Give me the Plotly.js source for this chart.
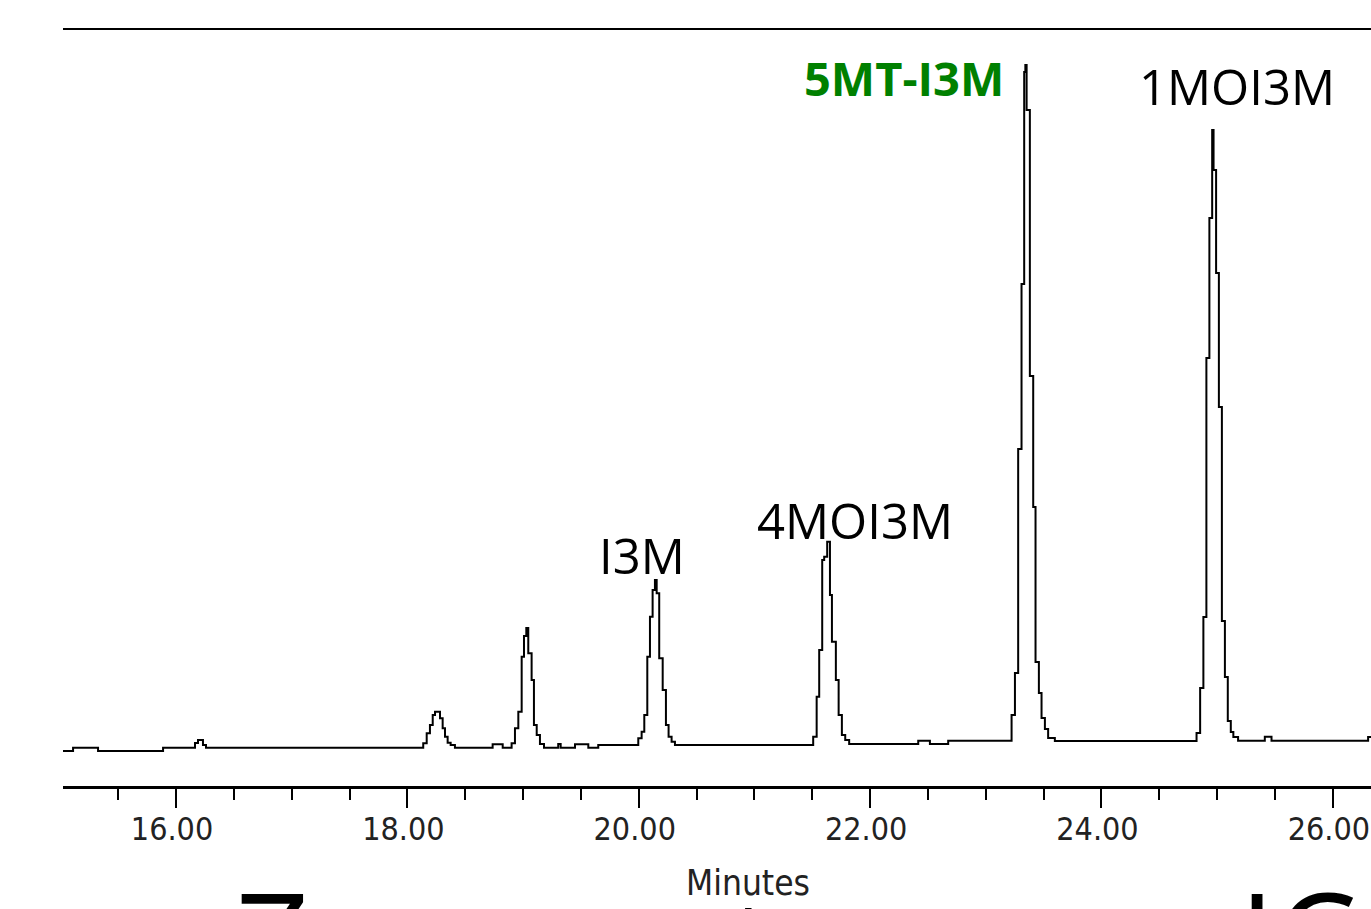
<!DOCTYPE html>
<html>
<head>
<meta charset="utf-8">
<script src="https://cdn.plot.ly/plotly-3.0.1.min.js"></script>
<style>
html, body { margin: 0; padding: 0; background: #fff; overflow: hidden; }
#chart { width: 1371px; height: 909px; }
</style>
</head>
<body>
<div id="chart"></div>
<script>
// Retention time (minutes) at the start of each digitised step of the trace
const retentionTime = [
  15.023, 15.110, 15.326, 15.888, 16.164, 16.190, 16.233, 16.259,
  18.137, 18.167, 18.195, 18.219, 18.239, 18.282, 18.305, 18.325, 18.348, 18.374, 18.411,
  18.737, 18.824, 18.901, 18.930, 18.959, 18.988, 19.008, 19.028, 19.045, 19.074, 19.094, 19.118, 19.146, 19.181,
  19.304, 19.325, 19.449, 19.564, 19.650,
  19.996, 20.025, 20.048, 20.074, 20.097, 20.120, 20.140, 20.155, 20.177, 20.207, 20.235, 20.258, 20.284, 20.313,
  21.508, 21.538, 21.560, 21.586, 21.603, 21.629, 21.653, 21.670, 21.704, 21.728, 21.756, 21.785, 21.819,
  22.416, 22.517, 22.675,
  23.223, 23.252, 23.280, 23.309, 23.332, 23.342, 23.353, 23.381, 23.410, 23.430, 23.459, 23.482, 23.511, 23.539, 23.597,
  24.822, 24.853, 24.881, 24.907, 24.933, 24.957, 24.969, 24.991, 25.015, 25.041, 25.067, 25.092, 25.118, 25.140, 25.181,
  25.412, 25.470, 26.305, 26.330
];
// Detector signal (arbitrary units)
const signal = [
  35, 38.3, 35, 38.3, 43, 46, 41, 38.3,
  42.7, 52.7, 61, 71, 74.3, 67.7, 57.7, 49.3, 43.3, 41, 38.3,
  41.7, 38.3, 42.7, 57.7, 74.3, 129.3, 150, 158, 132.7, 106, 61, 51, 42, 38.3,
  42, 38.3, 41.7, 38.3, 41,
  47.7, 54.3, 71, 129.3, 169.3, 196, 206, 192.7, 127.7, 96, 61, 49.3, 44.3, 41,
  49.3, 89.3, 136, 226, 229.3, 244.3, 191, 144.3, 106, 71, 51, 46, 42,
  45.3, 42, 45.3,
  71, 113, 337, 502, 714, 721, 676, 410, 279, 124, 93, 68, 57, 48, 45,
  53, 98, 169, 428, 568, 656, 616, 513, 379, 165, 109, 65, 54, 49, 45.3,
  49.3, 45.3, 49, 49
];
// Peak labels and texts
const peakLabels = ['I3M', '4MOI3M', '5MT-I3M', '1MOI3M'];
const axisTitle = 'Minutes';

const xRange = [15.023, 26.33];
const tickFontFamily = 'Liberation Sans Narrow, Arial Narrow, DejaVu Sans Condensed, sans-serif';

const trace = {
  x: retentionTime,
  y: signal,
  type: 'scatter',
  mode: 'lines',
  line: { color: '#000', width: 2, shape: 'hv' },
  hoverinfo: 'skip'
};
// empty trace that only carries the tick-label axis
const labelAxisTrace = { x: [], y: [], type: 'scatter', mode: 'lines', xaxis: 'x2', yaxis: 'y', hoverinfo: 'skip', showlegend: false };

const labelFont = { family: 'Open Sans, sans-serif', size: 49, color: '#000' };
const bigFont = { family: 'Open Sans, sans-serif', size: 130, color: '#000' };

const layout = {
  width: 1371,
  height: 909,
  margin: { l: 63, r: 0, t: 30, b: 123 },
  paper_bgcolor: '#fff',
  plot_bgcolor: '#fff',
  showlegend: false,
  xaxis: {
    range: xRange,
    tickmode: 'linear', tick0: 16, dtick: 2,
    ticks: 'outside', ticklen: 19, tickwidth: 2, tickcolor: '#000',
    showticklabels: false,
    showline: true, linecolor: '#000', linewidth: 2.5, mirror: true,
    showgrid: false, zeroline: false,
    minor: { tick0: 15.5, dtick: 0.5, ticks: 'outside', ticklen: 11, tickwidth: 2, tickcolor: '#000', showgrid: false }
  },
  xaxis2: {
    range: xRange,
    overlaying: 'x', anchor: 'y', side: 'bottom',
    tickmode: 'linear', tick0: 16, dtick: 2, tickformat: '.2f',
    ticks: '', showline: false, showgrid: false, zeroline: false,
    ticklabelstandoff: 21, ticklabelshift: -4, ticklabeloverflow: 'allow',
    tickfont: { family: tickFontFamily, size: 32, color: '#222' }
  },
  yaxis: { range: [0, 756], visible: false, fixedrange: true },
  annotations: [
    { text: peakLabels[0], x: 20.032, y: 266, xref: 'x', yref: 'y', xanchor: 'center', yanchor: 'top', showarrow: false, font: labelFont },
    { text: peakLabels[1], x: 21.869, y: 301, xref: 'x', yref: 'y', xanchor: 'center', yanchor: 'top', showarrow: false, font: labelFont },
    { text: '<b>' + peakLabels[2] + '</b>', x: 22.292, y: 742, xref: 'x', yref: 'y', xanchor: 'center', yanchor: 'top', showarrow: false,
      font: { family: 'Open Sans, sans-serif', size: 47, color: '#008000' } },
    { text: peakLabels[3], x: 25.170, y: 735, xref: 'x', yref: 'y', xanchor: 'center', yanchor: 'top', showarrow: false, font: labelFont },
    { text: axisTitle, x: 0.524, y: -0.128, xref: 'paper', yref: 'paper', xanchor: 'center', yanchor: 'middle', showarrow: false,
      font: { family: tickFontFamily, size: 35, color: '#222' } },
    // large slide caption below, mostly cut off by the bottom edge
    { text: 'Z', x: 0.130, y: -0.0794, xref: 'paper', yref: 'paper', xanchor: 'left', yanchor: 'top', showarrow: false, font: bigFont },
    { text: 't', x: 0.527, y: -0.0794, yshift: -7, xref: 'paper', yref: 'paper', xanchor: 'center', yanchor: 'top', showarrow: false, font: bigFont },
    { text: 'IC', x: 0.8976, y: -0.0794, xref: 'paper', yref: 'paper', xanchor: 'left', yanchor: 'top', showarrow: false, font: bigFont }
  ]
};

Plotly.newPlot('chart', [trace, labelAxisTrace], layout, { displayModeBar: false, staticPlot: true });
</script>
</body>
</html>
